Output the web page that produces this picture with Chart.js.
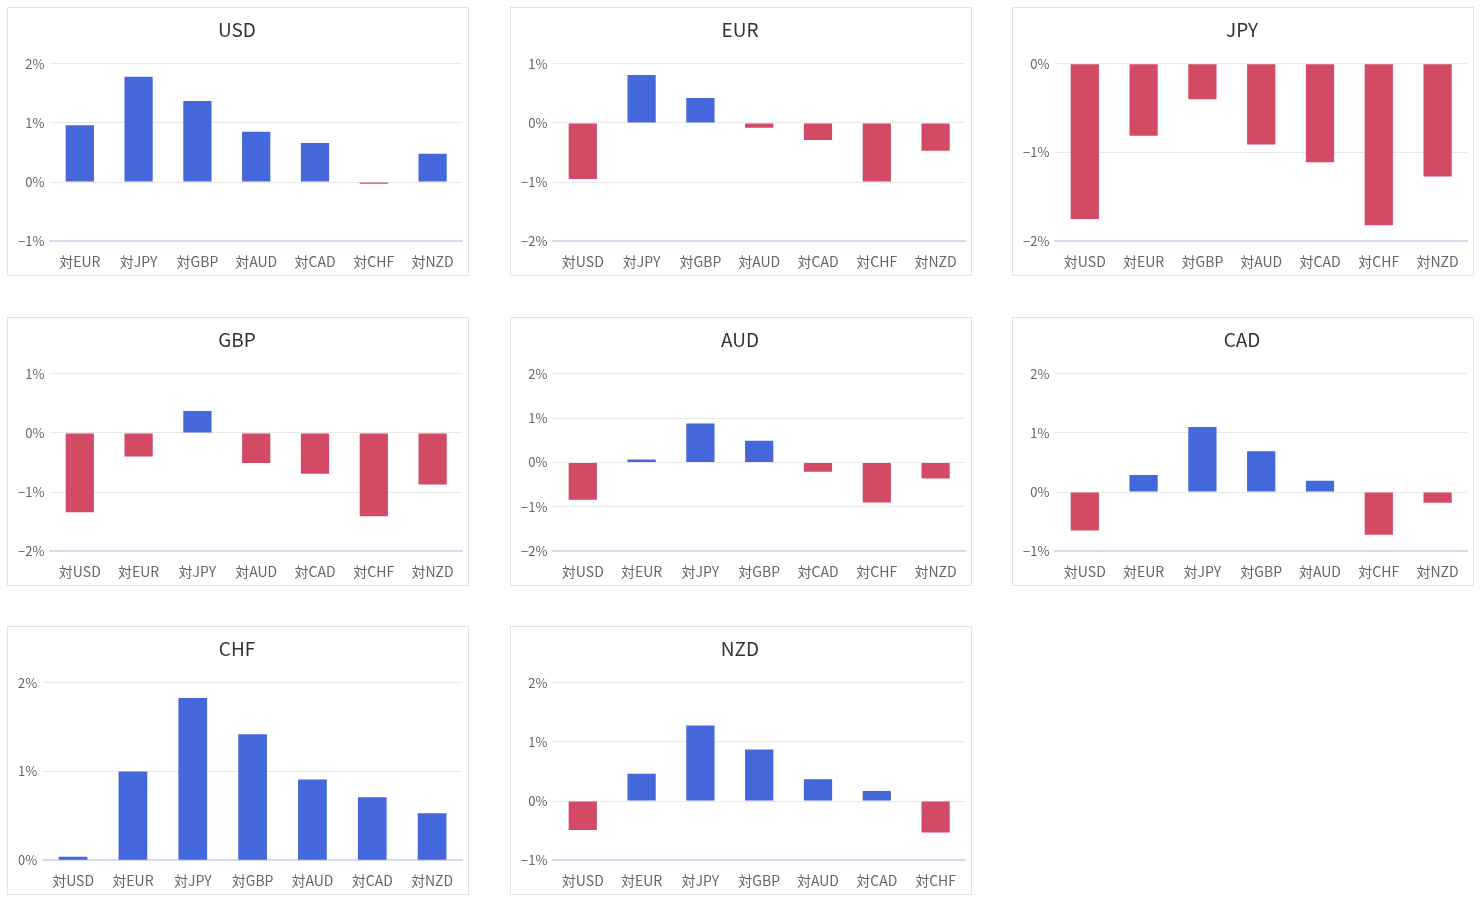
<!DOCTYPE html>
<html>
<head>
<meta charset="utf-8">
<script src="https://cdn.jsdelivr.net/npm/chart.js@4"></script>
<style>
  body { margin: 0; background: #fff; }
  .panel {
    position: absolute;
    width: 460px;
    height: 267px;
    border: 1px solid #dde4e7;
    background: #fff;
  }
</style>
</head>
<body>
<div id="wrap"></div>
<script>
const currencies = ["USD", "EUR", "JPY", "GBP", "AUD", "CAD", "CHF", "NZD"];

// 各通貨の対他通貨変化率 (%)
const usdValues = [0.96, 1.78, 1.37, 0.85, 0.66, -0.03, 0.48];
const eurValues = [-0.95, 0.81, 0.42, -0.08, -0.29, -0.99, -0.47];
const jpyValues = [-1.75, -0.81, -0.40, -0.91, -1.11, -1.82, -1.27];
const gbpValues = [-1.34, -0.40, 0.37, -0.51, -0.69, -1.41, -0.87];
const audValues = [-0.84, 0.07, 0.88, 0.49, -0.21, -0.90, -0.36];
const cadValues = [-0.65, 0.29, 1.10, 0.69, 0.19, -0.72, -0.18];
const chfValues = [0.04, 1.00, 1.83, 1.42, 0.91, 0.71, 0.53];
const nzdValues = [-0.49, 0.46, 1.28, 0.87, 0.37, 0.17, -0.53];

const yMins = [-1, -2, -2, -2, -2, -1, 0, -1];
const yMaxs = [2, 1, 0, 1, 2, 2, 2, 2];

const allValues = [usdValues, eurValues, jpyValues, gbpValues, audValues, cadValues, chfValues, nzdValues];

const blue = "#4467dc";
const red = "#d34a64";
const fontFam = "'Noto Sans CJK JP', 'Noto Sans', sans-serif";

const wrap = document.getElementById("wrap");

currencies.forEach((cur, i) => {
  let col = i % 3;
  let row = Math.floor(i / 3);
  let div = document.createElement("div");
  div.className = "panel";
  div.style.left = (7 + col * 502.5) + "px";
  div.style.top = (7 + row * 309.5) + "px";
  let cv = document.createElement("canvas");
  div.appendChild(cv);
  wrap.appendChild(div);

  let labels = currencies.filter(c => c !== cur).map(c => "対" + c);

  new Chart(cv, {
    type: "bar",
    data: {
      labels: labels,
      datasets: [
        {
          label: cur,
          data: allValues[i],
          backgroundColor: ctx => (ctx.raw >= 0 ? blue : red),
          categoryPercentage: 1,
          barPercentage: 0.48,
        },
      ],
    },
    options: {
      responsive: true,
      maintainAspectRatio: false,
      animation: false,
      layout: { padding: { left: 4, right: 6, bottom: 1 } },
      plugins: {
        legend: { display: false },
        tooltip: { enabled: false },
        title: {
          display: true,
          text: cur,
          color: "#333",
          font: { family: fontFam, size: 19, weight: "normal" },
          padding: { top: 10, bottom: 23 },
        },
      },
      scales: {
        x: {
          grid: { display: false },
          border: { color: "#d5daee", width: 2 },
          ticks: { color: "#666", font: { family: fontFam, size: 14 }, padding: 4, maxRotation: 0 },
        },
        y: {
          min: yMins[i],
          max: yMaxs[i],
          grid: { color: "#e8e8e8", drawTicks: false },
          border: { display: false },
          ticks: {
            stepSize: 1,
            color: "#666",
            padding: 6,
            font: { family: fontFam, size: 13 },
            callback: v => (v < 0 ? "\u2212" + Math.abs(v) : v) + "%",
          },
        },
      },
    },
  });
});
</script>
</body>
</html>
